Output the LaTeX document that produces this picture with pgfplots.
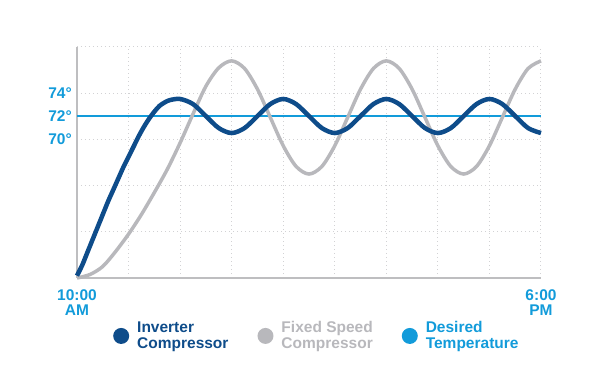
\documentclass[border=0pt]{standalone}
\usepackage{pgfplots}
\pgfplotsset{compat=1.18}
\usepackage{fontspec}
\setmainfont{Liberation Sans}
\definecolor{dkblue}{RGB}{14,76,138}
\definecolor{ltgray}{RGB}{184,184,188}
\definecolor{ltblue}{RGB}{18,155,218}
\definecolor{axgray}{RGB}{190,190,192}
\definecolor{grdgray}{RGB}{210,210,212}
\begin{document}
\begin{tikzpicture}[x=1pt,y=1pt]
\path[use as bounding box] (-77,-110) rectangle (523,278);
\begin{axis}[
  at={(0,0)}, anchor=south west,
  scale only axis, width=464pt, height=231pt,
  xmin=0, xmax=9, ymin=58, ymax=78,
  clip=false,
  axis x line*=bottom, axis y line*=left,
  x axis line style={-}, y axis line style={-},
  axis line style={axgray, line width=2pt},
  xtick={0,1,2,3,4,5,6,7,8,9},
  xticklabels={10:00\\AM,,,,,,,,,6:00\\PM},
  ytick={58,62,66,70,72,74,78},
  yticklabels={,,,70°,72°,74°,},
  xmajorgrids, ymajorgrids,
  grid style={grdgray, line width=1pt, dash pattern=on 1pt off 3pt},
  major tick length=0pt,
  ticklabel style={font=\bfseries\fontsize{15.5}{15}\selectfont, text=ltblue},
  xticklabel style={align=center, inner sep=0pt, yshift=-11pt},
  yticklabel style={inner sep=0pt, xshift=-5pt},
  legend image code/.code={\path[#1, draw=none] (0pt,0pt) circle (8pt);},
  legend columns=3,
  legend style={draw=none, fill=none, inner sep=0pt, outer sep=0pt,
    at={(axis description cs:0.078,-0.18)}, anchor=north west,
    font=\bfseries\fontsize{15.5}{16}\selectfont,
    cells={align=left},
    /tikz/every odd column/.append style={column sep=6pt},
    /tikz/every even column/.append style={column sep=27pt}},
  legend cell align=left,
]
\addplot[ltblue, line width=2pt, forget plot] coordinates {(0,72) (9,72)};
\addplot[ltgray, line width=3.5pt, smooth, forget plot] coordinates {
(0,58.0) (0.25,58.3) (0.5,59.0) (0.75,60.3) (1.0,61.8) (1.25,63.5) (1.5,65.4)
(1.75,67.4) (2.0,69.7) (2.25,72.2) (2.5,74.6) (2.75,76.2) (3.0,76.8)
(3.25,76.14) (3.5,74.35) (3.75,71.9) (4.0,69.45) (4.25,67.66) (4.5,67.0)
(4.75,67.66) (5.0,69.45) (5.25,71.9) (5.5,74.35) (5.75,76.14) (6.0,76.8)
(6.25,76.14) (6.5,74.35) (6.75,71.9) (7.0,69.45) (7.25,67.66) (7.5,67.0)
(7.75,67.66) (8.0,69.45) (8.25,71.9) (8.5,74.35) (8.75,76.14) (9.0,76.8)};
\addplot[dkblue, line width=4.5pt, smooth, forget plot] coordinates {
(0,58.2) (0.1,59.1) (0.2,60.2) (0.3,61.3) (0.4,62.4) (0.5,63.5) (0.6,64.6)
(0.7,65.6) (0.8,66.6) (0.9,67.6) (1.0,68.5) (1.1,69.4) (1.2,70.3) (1.3,71.1)
(1.4,71.8) (1.5,72.4) (1.6,72.9) (1.7,73.2) (1.8,73.4) (2.0,73.5)
(2.25,73.06) (2.5,72.02) (2.75,70.98) (3.0,70.55)
(3.25,70.98) (3.5,72.02) (3.75,73.06) (4.0,73.5)
(4.25,73.06) (4.5,72.02) (4.75,70.98) (5.0,70.55)
(5.25,70.98) (5.5,72.02) (5.75,73.06) (6.0,73.5)
(6.25,73.06) (6.5,72.02) (6.75,70.98) (7.0,70.55)
(7.25,70.98) (7.5,72.02) (7.75,73.06) (8.0,73.5)
(8.25,73.06) (8.5,72.02) (8.75,70.98) (9.0,70.55)};
\addlegendimage{fill=dkblue, draw=none}
\addlegendentry[text=dkblue]{Inverter\\Compressor}
\addlegendimage{fill=ltgray, draw=none}
\addlegendentry[text=ltgray]{Fixed Speed\\Compressor}
\addlegendimage{fill=ltblue, draw=none}
\addlegendentry[text=ltblue]{Desired\\Temperature}
\end{axis}
\end{tikzpicture}
\end{document}
